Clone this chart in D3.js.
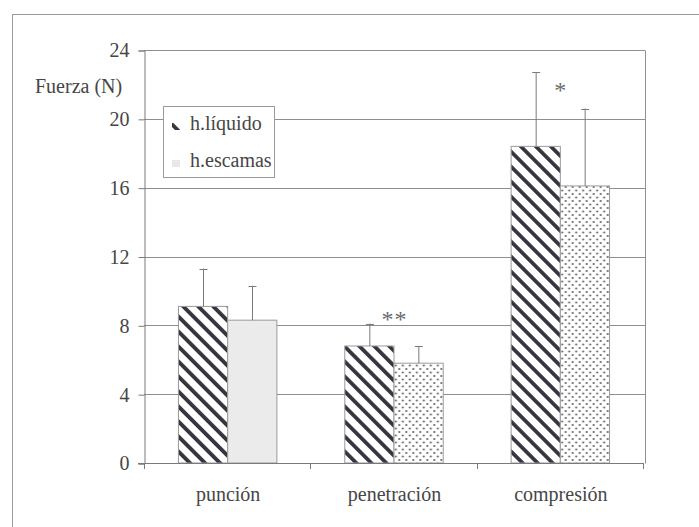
<!DOCTYPE html>
<html>
<head>
<meta charset="utf-8">
<script src="https://cdn.jsdelivr.net/npm/d3@7"></script>
<style>
  html, body { margin: 0; padding: 0; background: #ffffff; }
  svg { display: block; }
</style>
</head>
<body>
<svg id="chart" width="699" height="527" font-family="Liberation Serif"></svg>
<script>
// ---- data ----
const categories = ["punción", "penetración", "compresión"];
const seriesNames = ["h.líquido", "h.escamas"];
const liquidoValues = [9.1, 6.8, 18.4];
const liquidoErrors = [2.2, 1.3, 4.3];
const escamasValues = [8.3, 5.8, 16.1];
const escamasErrors = [2.0, 1.0, 4.5];
const sigLabels = ["", "**", "*"];
const sigLevels = [null, 8.6, 21.9];
const yTickValues = [0, 4, 8, 12, 16, 20, 24];
const yAxisTitle = "Fuerza (N)";

(function () {
const FONT = "Liberation Serif";
const TXT = "#464646";
const svg = d3.select("#chart");
const pLeft = 144, pRight = 643, pTop = 50, pBottom = 463;

const y = d3.scaleLinear().domain([0, 24]).range([pBottom, pTop]);
const x0 = d3.scaleBand().domain(categories).range([pLeft, pRight]).paddingInner(0).paddingOuter(0);
const x1 = d3.scaleBand().domain(seriesNames).range([0, x0.bandwidth()]).paddingInner(0).paddingOuter(0.69);

// patterns
const defs = svg.append("defs");
const hatch = defs.append("pattern")
  .attr("id", "hatch").attr("patternUnits", "userSpaceOnUse")
  .attr("width", 10.6).attr("height", 10.6)
  .attr("patternTransform", "rotate(-45)");
hatch.append("rect").attr("width", 10.6).attr("height", 10.6).attr("fill", "#ffffff");
hatch.append("rect").attr("x", 0).attr("width", 3.8).attr("height", 10.6).attr("fill", "#35353f");

const dots = defs.append("pattern")
  .attr("id", "dots").attr("patternUnits", "userSpaceOnUse")
  .attr("width", 7).attr("height", 7);
dots.append("rect").attr("width", 7).attr("height", 7).attr("fill", "#ffffff");
dots.append("circle").attr("cx", 1.5).attr("cy", 1.5).attr("r", 1).attr("fill", "#555555");
dots.append("circle").attr("cx", 5).attr("cy", 5).attr("r", 1).attr("fill", "#555555");

// outer border (left and top visible)
svg.append("rect").attr("x", 12.5).attr("y", 14.5).attr("width", 720).attr("height", 540)
  .attr("fill", "none").attr("stroke", "#9a9a9a").attr("stroke-width", 1);

// gridlines
svg.append("g").selectAll("line").data(yTickValues.filter(d => d > 0)).join("line")
  .attr("x1", pLeft).attr("x2", pRight + 2)
  .attr("y1", d => Math.round(y(d)) + 0.5).attr("y2", d => Math.round(y(d)) + 0.5)
  .attr("stroke", "#8e8e8e").attr("stroke-width", 1);

// right frame
svg.append("line").attr("x1", pRight + 2.5).attr("x2", pRight + 2.5)
  .attr("y1", Math.round(y(24)) + 0.5).attr("y2", pBottom + 0.5)
  .attr("stroke", "#8e8e8e");

// y axis
const yAxis = d3.axisLeft(y).tickValues(yTickValues).tickSize(6).tickPadding(9).tickFormat(d3.format("d"));
const gy = svg.append("g").attr("transform", `translate(${pLeft + 0.5},0.5)`).call(yAxis)
  .attr("font-family", FONT).attr("font-size", 20);
gy.select(".domain").attr("stroke", "#7a7a7a");
gy.selectAll(".tick line").attr("stroke", "#7a7a7a");
gy.selectAll(".tick text").attr("font-size", 20).attr("font-family", FONT).attr("fill", TXT);

// bars
const data = categories.map((c, i) => ({
  cat: c,
  vals: [
    { s: seriesNames[0], v: liquidoValues[i], e: liquidoErrors[i], idx: i },
    { s: seriesNames[1], v: escamasValues[i], e: escamasErrors[i], idx: i }
  ]
}));

function barFill(d) {
  if (d.s === seriesNames[0]) return "url(#hatch)";
  return d.idx === 0 ? "#ebebeb" : "url(#dots)";
}

const groups = svg.append("g").selectAll("g").data(data).join("g")
  .attr("transform", d => `translate(${x0(d.cat)},0)`);

groups.selectAll("rect").data(d => d.vals).join("rect")
  .attr("x", d => x1(d.s) + 0.5)
  .attr("y", d => y(d.v))
  .attr("width", x1.bandwidth())
  .attr("height", d => pBottom - y(d.v))
  .attr("fill", barFill)
  .attr("stroke", "#9a9a9a").attr("stroke-width", 1);

// error bars
const eb = groups.selectAll("g.err").data(d => d.vals).join("g").attr("class", "err");
eb.append("line")
  .attr("x1", d => Math.round(x1(d.s) + x1.bandwidth() / 2) + 0.5)
  .attr("x2", d => Math.round(x1(d.s) + x1.bandwidth() / 2) + 0.5)
  .attr("y1", d => y(d.v)).attr("y2", d => y(d.v + d.e))
  .attr("stroke", "#7a7a7a");
eb.append("line")
  .attr("x1", d => Math.round(x1(d.s) + x1.bandwidth() / 2) - 3.5)
  .attr("x2", d => Math.round(x1(d.s) + x1.bandwidth() / 2) + 4.5)
  .attr("y1", d => Math.round(y(d.v + d.e)) + 0.5).attr("y2", d => Math.round(y(d.v + d.e)) + 0.5)
  .attr("stroke", "#7a7a7a");

// x axis
svg.append("line").attr("x1", pLeft - 6).attr("x2", pRight).attr("y1", pBottom + 0.5).attr("y2", pBottom + 0.5)
  .attr("stroke", "#7a7a7a");
const boundaries = categories.map(c => x0(c)).concat([x0(categories[categories.length - 1]) + x0.bandwidth()]);
svg.append("g").selectAll("line").data(boundaries).join("line")
  .attr("x1", d => Math.round(d) + 0.5).attr("x2", d => Math.round(d) + 0.5)
  .attr("y1", pBottom).attr("y2", pBottom + 6)
  .attr("stroke", "#7a7a7a");
svg.append("g").selectAll("text").data(categories).join("text")
  .attr("x", d => x0(d) + x0.bandwidth() / 2 + 1)
  .attr("y", 501)
  .attr("text-anchor", "middle")
  .attr("font-family", FONT).attr("font-size", 20).attr("fill", TXT)
  .text(d => d);

// significance marks
svg.append("g").selectAll("text").data(categories.map((c, i) => ({ c, l: sigLabels[i], v: sigLevels[i] })).filter(d => d.l))
  .join("text")
  .attr("x", d => x0(d.c) + x0.bandwidth() / 2 + 1)
  .attr("y", d => y(d.v) + 12)
  .attr("text-anchor", "middle")
  .attr("font-family", FONT).attr("font-size", 24).attr("fill", "#6a6a6a")
  .attr("letter-spacing", 1)
  .text(d => d.l);

// y axis title
svg.append("text").attr("x", 35).attr("y", 93)
  .attr("font-family", FONT).attr("font-size", 20).attr("fill", TXT)
  .text(yAxisTitle);

// legend
const lg = svg.append("g");
lg.append("rect").attr("x", 163.5).attr("y", 106.5).attr("width", 111).attr("height", 71)
  .attr("fill", "#ffffff").attr("stroke", "#9a9a9a");
const legendRows = [
  { name: seriesNames[0], fill: "url(#hatch)", yb: 130 },
  { name: seriesNames[1], fill: "#e8e8e8", yb: 167 }
];
lg.selectAll("rect.sw").data(legendRows).join("rect").attr("class", "sw")
  .attr("x", 172).attr("y", d => d.yb - 7).attr("width", 8).attr("height", 7)
  .attr("fill", d => d.fill);
lg.selectAll("text.lt").data(legendRows).join("text").attr("class", "lt")
  .attr("x", 190).attr("y", d => d.yb)
  .attr("font-family", FONT).attr("font-size", 20).attr("fill", TXT)
  .text(d => d.name);
})();
</script>
</body>
</html>
